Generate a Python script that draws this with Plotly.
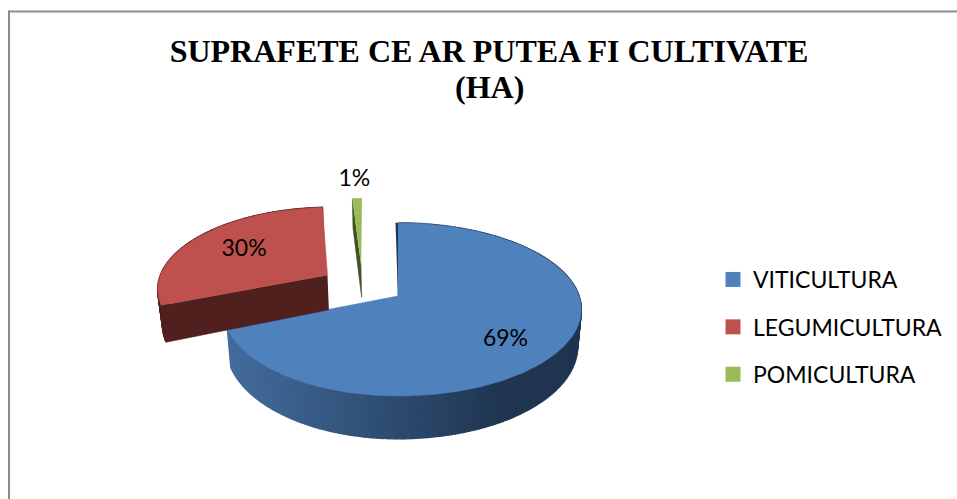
import numpy as np
import plotly.graph_objects as go

TITLE_LINES = ["<b>SUPRAFETE CE AR PUTEA FI CULTIVATE</b>", "<b>(HA)</b>"]
categories = ["VITICULTURA", "LEGUMICULTURA", "POMICULTURA"]
values = [69, 30, 1]
top_colors = ["#4f81bd", "#be504d", "#9bbb59"]
side_colors = ["#1f3550", "#4f201d", "#3f5222"]
pulls = [0.0, 0.48, 0.465]
pull_dirs = [None, None, 332.0]
left_scale = [0.955, 0.96, 1.0]
shear = [0.0, 0.07, 0.06]
label_radius = [0.73, 0.62, 1.33]
label_turn = [7.0, 0.0, -2.0]

W, H = 957, 499
X0, Y0, R, RY, K, THICK, SHRINK = 398.0, 296.0, 181.0, 84.4, 0.156, 36.0, 0.02


def project(u, w, drop=0.0):
    s = 1.0 / (1.0 - K * w)
    x = X0 + R * u * s
    if drop:
        x = X0 + (x - X0) * (1 - SHRINK)
    return x, Y0 + RY * w * s + drop * s


def rim(theta_deg, ox, oz, radius=1.0):
    t = np.radians(theta_deg)
    return radius * np.sin(t) + ox, -radius * np.cos(t) + oz


def mix(a, b, f):
    ca = [int(a[i:i + 2], 16) for i in (1, 3, 5)]
    cb = [int(b[i:i + 2], 16) for i in (1, 3, 5)]
    return "rgb(%d,%d,%d)" % tuple(round(p + (q - p) * f) for p, q in zip(ca, cb))


def poly(fig, xs, ys, color, line=0.6):
    fig.add_trace(go.Scatter(
        x=list(xs), y=list(ys), mode="lines", fill="toself", fillcolor=color,
        line=dict(color=color, width=line), hoverinfo="skip", showlegend=False))


fig = go.Figure()
angles = np.cumsum([0] + values) * 3.6
labels_x, labels_y, labels_text = [], [], []

for i, v in enumerate(values):
    a0, a1 = angles[i], angles[i + 1]
    d = pull_dirs[i] if pull_dirs[i] is not None else (a0 + a1) / 2
    ox = pulls[i] * np.sin(np.radians(d))
    oz = -pulls[i] * np.cos(np.radians(d))
    th = np.linspace(a0, a1, max(12, int(a1 - a0)))
    us, ws = rim(th, ox, oz)
    ax, ay = project(ox, oz)
    abx, aby = project(ox, oz, THICK)

    def fit(x, y, apex_x, apex_y):
        x = np.where(x < apex_x, apex_x + (x - apex_x) * left_scale[i], x)
        return x - shear[i] * (apex_y - y), y

    tx, ty = fit(*project(us, ws), ax, ay)
    bx, by = fit(*project(us, ws, THICK), abx, aby)

    # curved outer wall, shaded from left (light) to right (dark);
    # the small back slice only shows its cut face
    if i < 2:
        for j in range(len(th) - 1):
            if i == 0:
                f = np.clip((tx[j] - 228.0) / 280.0, 0, 1)
                shade = mix("#436c9e", side_colors[0], f)
            else:
                shade = side_colors[i]
            poly(fig, [tx[j], tx[j + 1], bx[j + 1], bx[j]],
                 [ty[j], ty[j + 1], by[j + 1], by[j]], shade, 1.6)

    # flat cut faces of the slices
    if i == 0:
        poly(fig, [tx[0] - 2.5, tx[0], ax], [ty[0], ty[0], ay], side_colors[0])
    if i == 1:
        poly(fig, [ax, tx[0], bx[0], abx], [ay, ty[0], by[0], aby], side_colors[1])
    if i == 2:
        poly(fig, [tx[0], bx[0], abx, ax], [ty[0], by[0], aby, ay], side_colors[2])

    # top face
    poly(fig, list(tx) + [ax], list(ty) + [ay], top_colors[i])

    mid = (a0 + a1) / 2 + label_turn[i]
    lu, lw = rim(mid, ox, oz, label_radius[i])
    lx, ly = project(lu, lw)
    labels_x.append(float(lx))
    labels_y.append(float(ly))
    labels_text.append(f"{v}%")

fig.add_trace(go.Scatter(
    x=labels_x, y=labels_y, text=labels_text, mode="text", textposition="middle center",
    textfont=dict(family="Lato", size=23, color="#000000"),
    hoverinfo="skip", showlegend=False))

for name, color in zip(categories, top_colors):
    fig.add_trace(go.Scatter(
        x=[None], y=[None], mode="markers", name=name, legendgroup=name,
        marker=dict(symbol="square", size=15, color=color, line=dict(width=0))))

frame = "#8c8c8c"
fig.add_shape(type="line", x0=9, x1=9, y0=10.5, y1=H, line=dict(color=frame, width=2))
fig.add_shape(type="line", x0=8, x1=W, y0=11.5, y1=11.5, line=dict(color=frame, width=2))

title_font = dict(family="Liberation Serif", size=32, color="#000000")
fig.add_annotation(text=TITLE_LINES[1], x=489, y=87, xref="x", yref="y",
                   showarrow=False, font=title_font)

fig.update_layout(
    width=W, height=H, autosize=False,
    margin=dict(l=0, r=0, t=0, b=0),
    paper_bgcolor="white", plot_bgcolor="white",
    title=dict(text=TITLE_LINES[0], x=489 / W, xanchor="center", y=1 - 51 / H, yanchor="middle",
               font=title_font),
    xaxis=dict(visible=False, range=[0, W], fixedrange=True),
    yaxis=dict(visible=False, range=[H, 0], fixedrange=True),
    legend=dict(x=713 / W, y=1 - 258 / H, xanchor="left", yanchor="top",
                font=dict(family="Lato", size=23, color="#000000"),
                tracegroupgap=14.5, bgcolor="rgba(0,0,0,0)"),
)

fig.write_html("out.html", config={"displayModeBar": False},
               post_script="document.body.style.margin='0';")
